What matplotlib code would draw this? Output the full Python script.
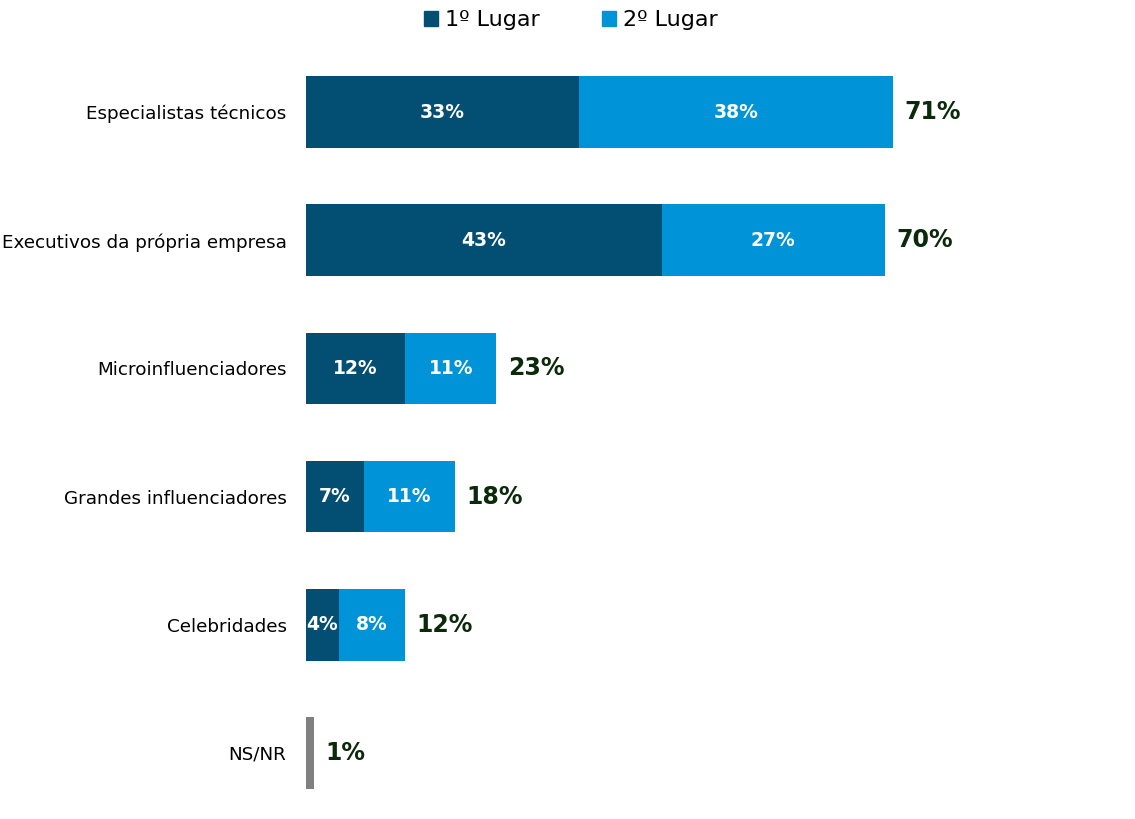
import matplotlib
matplotlib.use("Agg")
import matplotlib.pyplot as plt
from matplotlib.patches import Patch

plt.rcParams['font.family'] = ['DejaVu Sans']

categories = ["Especialistas técnicos", "Executivos da própria empresa", "Microinfluenciadores",
              "Grandes influenciadores", "Celebridades", "NS/NR"]
primeiro = [33, 43, 12, 7, 4, 0]
segundo = [38, 27, 11, 11, 8, 0]
nsnr = [0, 0, 0, 0, 0, 1]
totais = [71, 70, 23, 18, 12, 1]
series_names = ["1º Lugar", "2º Lugar"]

c1 = "#034F73"
c2 = "#0093D8"
cgray = "#808080"
ctot = "#0A2A0A"

fig = plt.figure(figsize=(11.35, 8.19), dpi=100)
ax = fig.add_axes([306/1135, 2/819, (1133-306)/1135, (817-48)/819])

y = list(range(len(categories)))
h = 0.56
ax.barh(y, primeiro, height=h, color=c1)
ax.barh(y, segundo, left=primeiro, height=h, color=c2)
ax.barh(y, nsnr, height=h, color=cgray)

for i in y:
    if primeiro[i] > 0:
        ax.text(primeiro[i] / 2, i, f"{primeiro[i]}%", ha="center", va="center",
                color="white", fontweight="bold", fontsize=13.5)
    if segundo[i] > 0:
        ax.text(primeiro[i] + segundo[i] / 2, i, f"{segundo[i]}%", ha="center", va="center",
                color="white", fontweight="bold", fontsize=13.5)
    ax.text(totais[i] + 1.4, i, f"{totais[i]}%", ha="left", va="center",
            color=ctot, fontweight="bold", fontsize=17)

ax.set_xlim(0, 100)
ax.set_ylim(5.5, -0.5)
ax.set_yticks(y)
ax.set_yticklabels(categories, fontsize=13.2)
ax.tick_params(axis="y", length=0, pad=14)
ax.set_xticks([])
for s in ax.spines.values():
    s.set_visible(False)

handles = [Patch(color=c1, label=series_names[0]), Patch(color=c2, label=series_names[1])]
fig.legend(handles=handles, loc="upper center", bbox_to_anchor=(0.503, 1.012), ncol=2,
           frameon=False, fontsize=16, handlelength=0.65, handleheight=0.65,
           handletextpad=0.3, columnspacing=2.8)

fig.savefig("out.png", dpi=100)
